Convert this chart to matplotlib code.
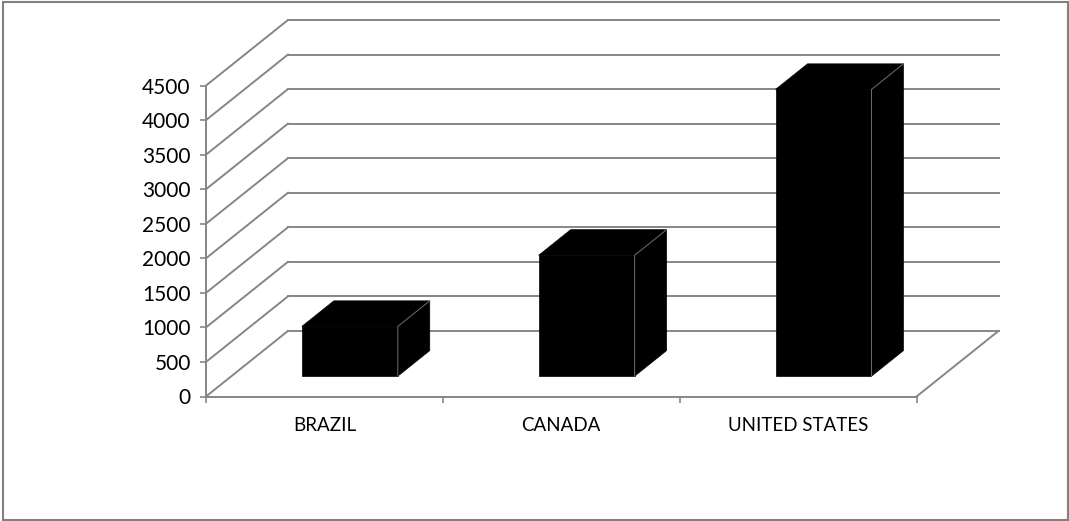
import matplotlib.pyplot as plt
from matplotlib.patches import Polygon, Rectangle

countries = ['BRAZIL', 'CANADA', 'UNITED STATES']
values = [720, 1750, 4150]
y_ticks = list(range(0, 5000, 500))

grid_color = '#868686'
depth_x = 0.346   # oblique depth, in category units
depth_y = 949     # oblique depth, in value units
front, back = 0.31, 0.70   # where the bars sit in the depth
bar_w = 0.405

plt.rcParams['font.family'] = ['Lato', 'DejaVu Sans']

fig = plt.figure(figsize=(10.69, 5.21), dpi=100)
ax = fig.add_axes([206 / 1069, (521 - 396.5) / 521, (998.5 - 206) / 1069, (396.5 - 20) / 521])
ax.set_xlim(0, len(countries) + depth_x)
ax.set_ylim(0, y_ticks[-1] + depth_y)
ax.patch.set_visible(False)

# walls: left diagonals and back gridlines
for t in y_ticks:
    ax.plot([0, depth_x], [t, t + depth_y], color=grid_color, lw=1.4, clip_on=False, zorder=1)
    ax.plot([depth_x, len(countries) + depth_x], [t + depth_y, t + depth_y],
            color=grid_color, lw=1.4, clip_on=False, zorder=1)
ax.plot([len(countries), len(countries) + depth_x], [0, depth_y],
        color=grid_color, lw=1.4, clip_on=False, zorder=1)

# bars
ddx = (back - front) * depth_x
ddy = (back - front) * depth_y
for i, v in enumerate(values):
    x0 = i + 0.5 - bar_w / 2 + front * depth_x
    y0 = front * depth_y
    faces = [
        [(x0, y0), (x0 + bar_w, y0), (x0 + bar_w, y0 + v), (x0, y0 + v)],
        [(x0, y0 + v), (x0 + bar_w, y0 + v), (x0 + bar_w + ddx, y0 + v + ddy), (x0 + ddx, y0 + v + ddy)],
        [(x0 + bar_w, y0), (x0 + bar_w + ddx, y0 + ddy), (x0 + bar_w + ddx, y0 + v + ddy), (x0 + bar_w, y0 + v)],
    ]
    for f in faces:
        ax.add_patch(Polygon(f, closed=True, facecolor='black', edgecolor='black',
                             lw=0.5, zorder=3))
    # thin grey edges where the front and side faces meet
    ax.plot([x0 + bar_w, x0 + bar_w, x0 + bar_w + ddx], [y0, y0 + v, y0 + v + ddy],
            color='#6e6e6e', lw=0.7, zorder=4)

# axes
for s in ['top', 'right']:
    ax.spines[s].set_visible(False)
for s in ['left', 'bottom']:
    ax.spines[s].set_color(grid_color)
    ax.spines[s].set_linewidth(1.4)
ax.spines['left'].set_bounds(0, y_ticks[-1])
ax.spines['bottom'].set_bounds(0, len(countries))

ax.set_yticks(y_ticks)
ax.set_yticklabels([str(t) for t in y_ticks])
ax.tick_params(axis='y', length=4, width=1.2, color=grid_color, pad=7, labelsize=15)

ax.set_xticks(range(len(countries) + 1))
ax.set_xticklabels([''] * (len(countries) + 1))
ax.set_xticks([i + 0.5 for i in range(len(countries))], minor=True)
ax.set_xticklabels(countries, minor=True)
ax.tick_params(axis='x', which='major', length=4, width=1.2, color=grid_color)
ax.tick_params(axis='x', which='minor', length=0, pad=15, labelsize=13.5)

# outer chart border
fig.patches.append(Rectangle((2.5 / 1069, 1.5 / 521), 1065.5 / 1069, 518 / 521,
                             transform=fig.transFigure, fill=False,
                             edgecolor='#808080', lw=1.5))

fig.savefig('out.png', dpi=100)
